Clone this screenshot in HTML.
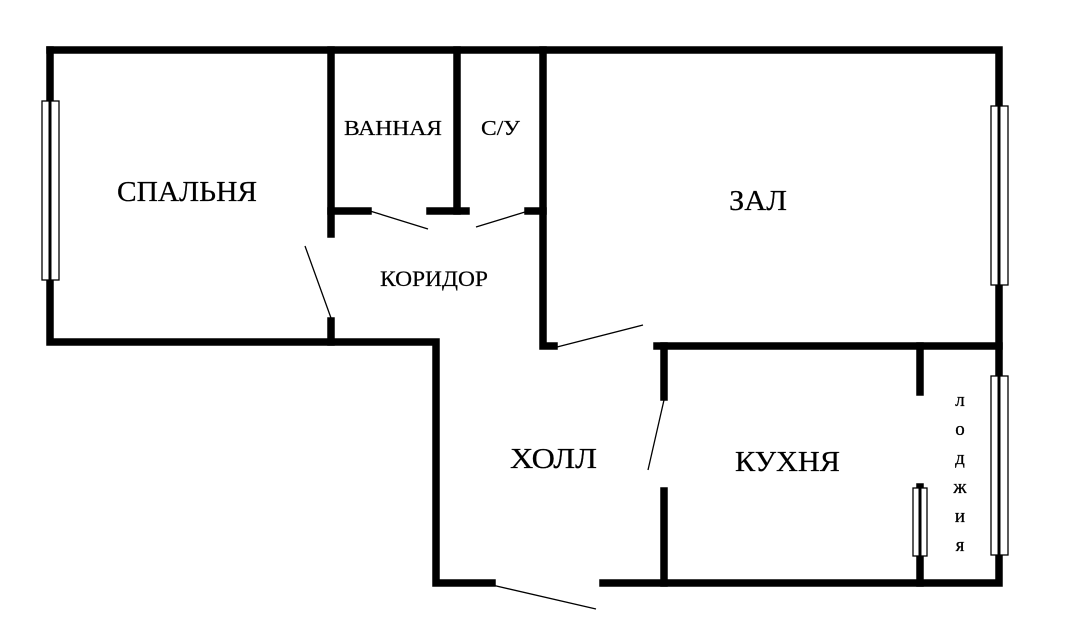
<!DOCTYPE html>
<html><head><meta charset="utf-8"><style>
html,body{margin:0;padding:0;background:#fff;}
svg{display:block}
text{font-family:"Liberation Serif","DejaVu Serif",serif;fill:#000;}
</style></head><body>
<svg width="1080" height="635" viewBox="0 0 1080 635" xmlns="http://www.w3.org/2000/svg">
<rect width="1080" height="635" fill="#fff"/>
<g stroke="#000" stroke-width="7.5" fill="none" stroke-linecap="square">
  <path d="M50 50 H999 V583 H603"/>
  <path d="M492 583 H436 V342 H50 V50"/>
  <path d="M331 50 V234"/>
  <path d="M331 321 V342"/>
  <path d="M331 211 H368"/>
  <path d="M457 50 V211"/>
  <path d="M430 211 H466"/>
  <path d="M543 50 V346 H554"/>
  <path d="M528 211 H543"/>
  <path d="M657 346 H999"/>
  <path d="M664 346 V397"/>
  <path d="M664 491 V583"/>
  <path d="M920 346 V392"/>
  <path d="M920 487 V583"/>
</g>
<g stroke="#000" stroke-width="1.3">
  <line x1="370" y1="211" x2="428" y2="229"/>
  <line x1="476" y1="227" x2="525" y2="212"/>
  <line x1="305" y1="246" x2="331" y2="318"/>
  <line x1="557" y1="347" x2="643" y2="325"/>
  <line x1="664" y1="400" x2="648" y2="470"/>
  <line x1="492" y1="585" x2="596" y2="609"/>
</g>
<g fill="#fff" stroke="#000" stroke-width="1.3">
  <rect x="42" y="101" width="17" height="179"/>
  <rect x="991" y="106" width="17" height="179"/>
  <rect x="991" y="376" width="17" height="179"/>
  <rect x="913" y="488" width="14" height="68"/>
</g>
<g stroke="#000" stroke-width="3">
  <line x1="50" y1="101" x2="50" y2="280"/>
  <line x1="999" y1="106" x2="999" y2="285"/>
  <line x1="999" y1="376" x2="999" y2="555"/>
  <line x1="920" y1="488" x2="920" y2="556"/>
</g>
<g stroke="#000" stroke-width="0.2">
  <text x="117" y="201" font-size="29" textLength="140" lengthAdjust="spacingAndGlyphs">СПАЛЬНЯ</text>
  <text x="344" y="135" font-size="21" textLength="98" lengthAdjust="spacingAndGlyphs">ВАННАЯ</text>
  <text x="481" y="135" font-size="21" textLength="39" lengthAdjust="spacingAndGlyphs">С/У</text>
  <text x="729" y="210" font-size="29" textLength="58" lengthAdjust="spacingAndGlyphs">ЗАЛ</text>
  <text x="380" y="286" font-size="22" textLength="108" lengthAdjust="spacingAndGlyphs">КОРИДОР</text>
  <text x="510" y="468" font-size="29" textLength="87" lengthAdjust="spacingAndGlyphs">ХОЛЛ</text>
  <text x="735" y="471" font-size="29" textLength="105" lengthAdjust="spacingAndGlyphs">КУХНЯ</text>
</g>
<g text-anchor="middle" font-size="19" stroke="#000" stroke-width="0.3">
  <text x="960" y="406">л</text>
  <text x="960" y="435">о</text>
  <text x="960" y="464">д</text>
  <text x="960" y="493">ж</text>
  <text x="960" y="522">и</text>
  <text x="960" y="551">я</text>
</g>
</svg>
</body></html>
